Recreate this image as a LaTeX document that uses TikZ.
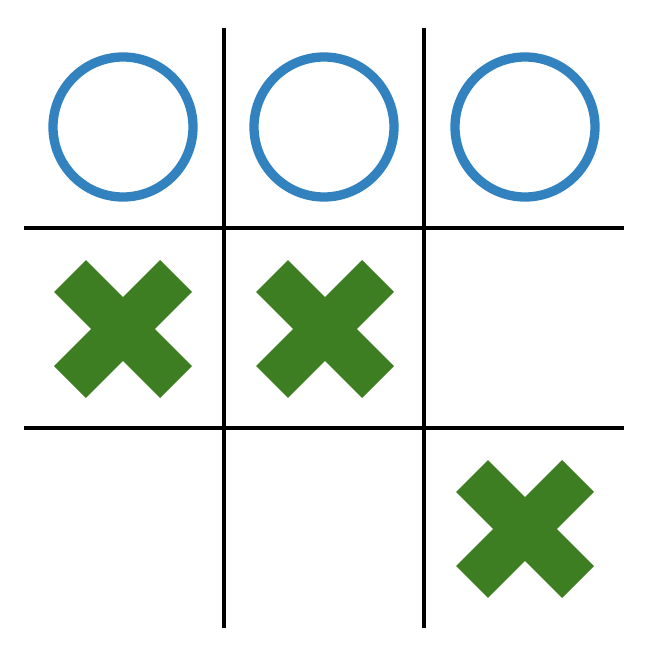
\documentclass[tikz,border=0pt]{standalone}
\definecolor{ringblue}{RGB}{51,130,192}
\definecolor{crossgreen}{RGB}{60,126,33}
\tikzset{gridline/.style={draw=black, line width=4pt}}
\tikzset{ring/.style={draw=ringblue, line width=9.3pt}}
\tikzset{bar/.style={draw=crossgreen, line width=45pt, line cap=butt}}
\newcommand{\crossmark}[2]{
    \draw [bar] (#1-53,#2-53) -- (#1+53,#2+53);
    \draw [bar] (#1-53,#2+53) -- (#1+53,#2-53);
}

\begin{document}
\begin{tikzpicture}[x=1pt, y=-1pt]
        \useasboundingbox (0,0) rectangle (664,650);

        % grid
        \foreach \gx in {224,424}
            \draw [gridline] (\gx,28) -- (\gx,628);
        \foreach \gy in {228,428}
            \draw [gridline] (24,\gy) -- (624,\gy);

        % noughts
        \foreach \cx in {123,324,525}
            \draw [ring] (\cx,127) circle (70);

        % crosses
        \crossmark{123}{329}
        \crossmark{325}{329}
        \crossmark{525}{529}
    \end{tikzpicture}
\end{document}
